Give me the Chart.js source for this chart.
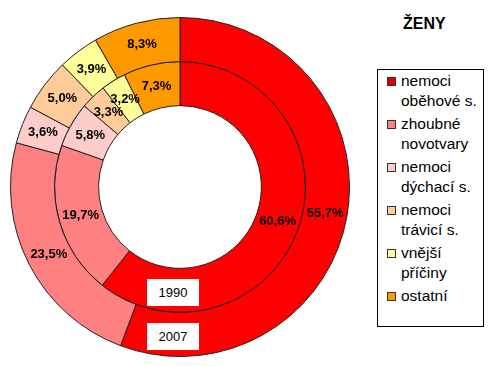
<!DOCTYPE html>
<html lang="cs">
<head>
<meta charset="UTF-8">
<title>Ženy - příčiny úmrtí</title>
<script src="https://cdn.jsdelivr.net/npm/chart.js"></script>
<style>
  * { margin: 0; padding: 0; box-sizing: border-box; }
  body { width: 490px; height: 367px; background: #fff; position: relative; overflow: hidden;
         font-family: "Liberation Sans", Arial, sans-serif; }
  .chart-wrap { position: absolute; left: 0; top: 0; width: 360px; height: 367px; }
  .title { position: absolute; left: 403px; top: 15px; font-weight: bold; font-size: 16px; color: #000; }
  .legend { position: absolute; left: 377px; top: 69px; width: 107px; height: 258px;
            border: 1px solid #000; padding: 1px 0 0 9px; }
  .legend .item { display: flex; align-items: flex-start; margin-bottom: 4px; }
  .legend .swatch { width: 9px; height: 9px; border: 1px solid #333; margin-top: 6px; margin-right: 5px; flex: none; }
  .legend .text { font-size: 15.5px; line-height: 19.5px; color: #000; }
  .year { position: absolute; left: 147px; width: 52px; height: 27px; background: #fff;
          font-size: 13px; line-height: 27px; text-align: center; color: #000; }
</style>
</head>
<body>
  <div class="chart-wrap"><canvas id="chart"></canvas></div>
  <div class="title">ŽENY</div>
  <div class="legend" id="legend"></div>
  <div class="year" style="top:279px">1990</div>
  <div class="year" style="top:323px">2007</div>

<script>
  // kategorie a hodnoty (%)
  const categories = ['nemoci oběhové s.', 'zhoubné novotvary', 'nemoci dýchací s.', 'nemoci trávicí s.', 'vnější příčiny', 'ostatní'];
  const legendLines = [['nemoci', 'oběhové s.'], ['zhoubné', 'novotvary'], ['nemoci', 'dýchací s.'], ['nemoci', 'trávicí s.'], ['vnější', 'příčiny'], ['ostatní']];
  const values2007 = [55.7, 23.5, 3.6, 5.0, 3.9, 8.3];
  const values1990 = [60.6, 19.7, 5.8, 3.3, 3.2, 7.3];
  const colors = ['#FF0000', '#FF8080', '#FFCCCC', '#FFCC99', '#FFFF99', '#FF9900'];
  const swatchColors = ['#E00000', '#FF8080', '#FFCCCC', '#FFCC99', '#FFFF99', '#FF9900'];

  // legenda
  const legendEl = document.getElementById('legend');
  categories.forEach((c, i) => {
    const item = document.createElement('div');
    item.className = 'item';
    item.innerHTML = '<span class="swatch" style="background:' + swatchColors[i] + '"></span>' +
      '<span class="text">' + legendLines[i].join('<br>') + '</span>';
    legendEl.appendChild(item);
  });

  // popisky hodnot v rámci výsečí
  const valueLabels = {
    id: 'valueLabels',
    afterDatasetsDraw(chart) {
      const ctx = chart.ctx;
      ctx.save();
      ctx.font = 'bold 13px "Liberation Sans", Arial, sans-serif';
      ctx.fillStyle = '#000';
      ctx.textAlign = 'center';
      ctx.textBaseline = 'middle';
      chart.data.datasets.forEach((ds, di) => {
        chart.getDatasetMeta(di).data.forEach((arc, i) => {
          const p = arc.tooltipPosition();
          ctx.fillText(ds.data[i].toFixed(1).replace('.', ',') + '%', p.x, p.y);
        });
      });
      ctx.restore();
    }
  };

  new Chart(document.getElementById('chart'), {
    type: 'doughnut',
    data: {
      labels: categories,
      datasets: [
        { label: '2007', data: values2007, backgroundColor: colors, borderColor: '#222', borderWidth: 1 },
        { label: '1990', data: values1990, backgroundColor: colors, borderColor: '#222', borderWidth: 1 }
      ]
    },
    options: {
      responsive: true,
      maintainAspectRatio: false,
      animation: false,
      cutout: '48%',
      layout: { padding: { top: 17, bottom: 10, left: 10, right: 10 } },
      plugins: {
        legend: { display: false },
        tooltip: { enabled: false }
      }
    },
    plugins: [valueLabels]
  });
</script>
</body>
</html>
